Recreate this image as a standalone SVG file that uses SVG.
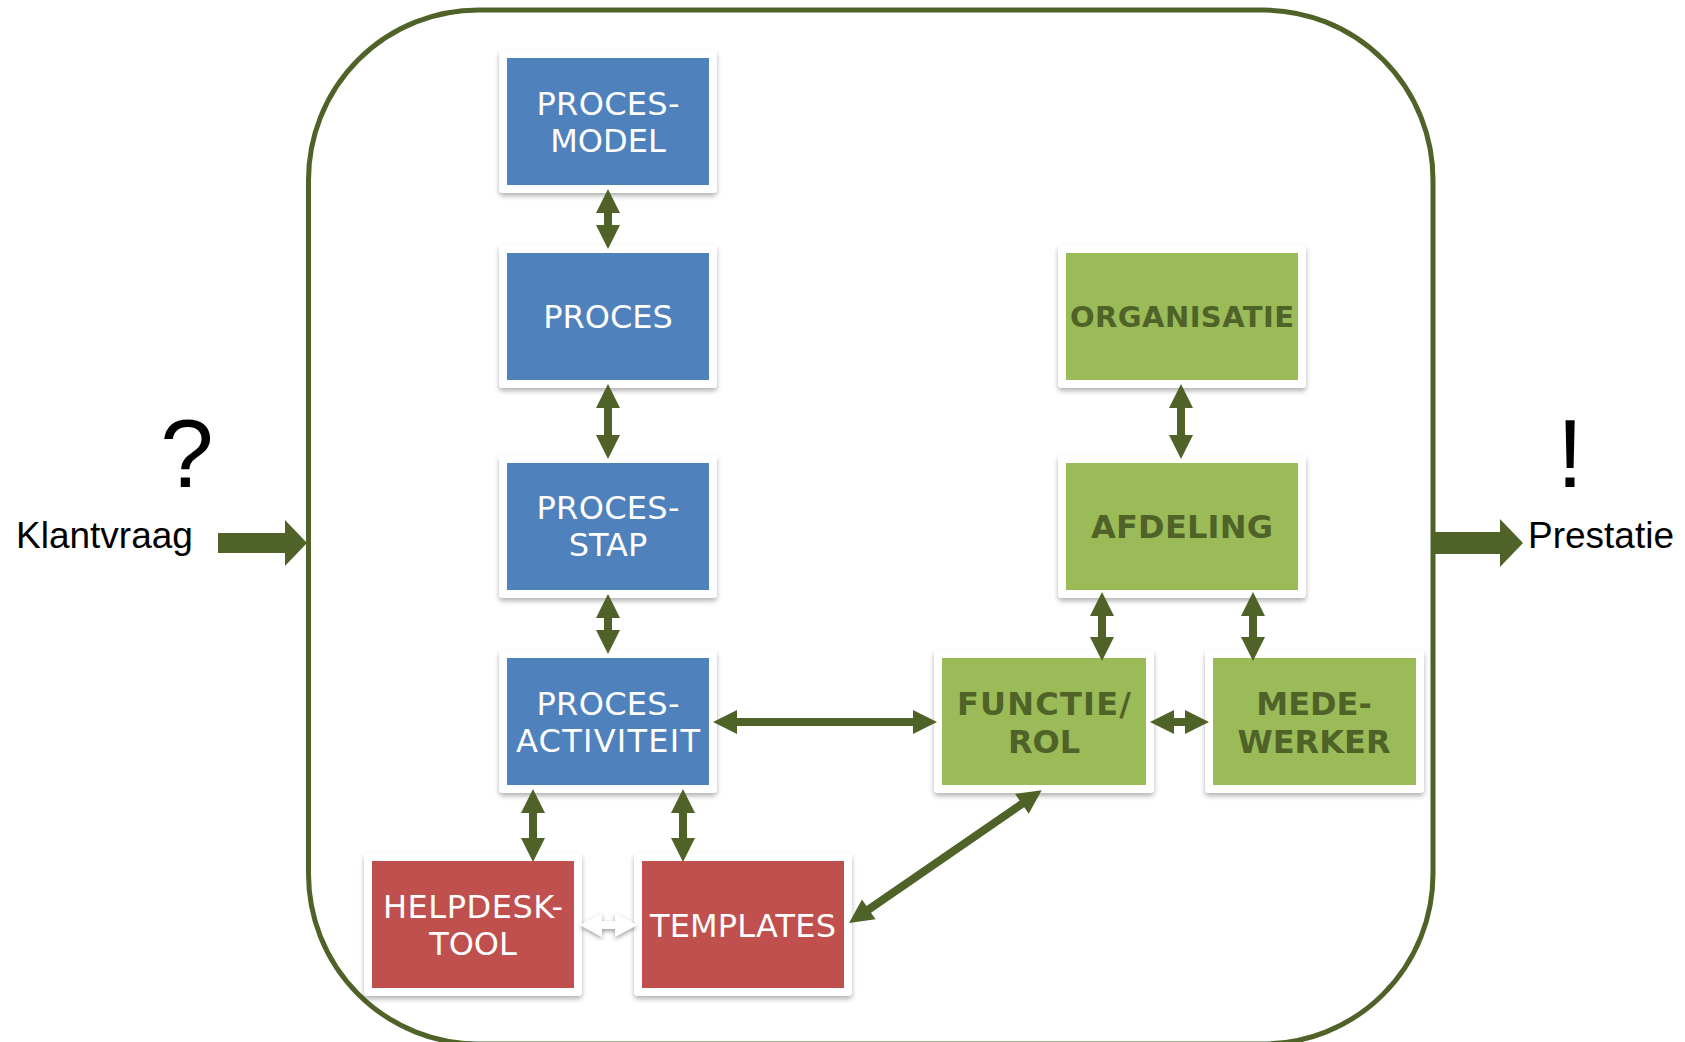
<svg xmlns="http://www.w3.org/2000/svg" width="1685" height="1042" viewBox="0 0 1685 1042">
<defs>
<filter id="sh" x="-10%" y="-10%" width="120%" height="130%">
<feDropShadow dx="0" dy="3" stdDeviation="2.5" flood-color="#000" flood-opacity="0.3"/>
</filter>
<filter id="sh2" x="-20%" y="-50%" width="140%" height="220%">
<feDropShadow dx="0" dy="2" stdDeviation="2" flood-color="#000" flood-opacity="0.4"/>
</filter>
</defs>
<style>
.frame{fill:#fff;filter:url(#sh)}
.blue{fill:#4F81BD}
.red{fill:#C0504D}
.green{fill:#9BBB59}
.wt{font-family:"DejaVu Sans",Verdana,sans-serif;font-size:32px;fill:#fff;text-anchor:middle}
.gt{font-family:"DejaVu Sans",Verdana,sans-serif;font-size:32px;font-weight:bold;fill:#4F6228;text-anchor:middle}
.conn{fill:#4F6228}
.lt{font-family:"Liberation Sans",Arial,sans-serif;font-size:37px;fill:#000}
.big{font-family:"Liberation Sans",Arial,sans-serif;font-size:96px;fill:#000;text-anchor:middle}
</style>
<rect width="1685" height="1042" fill="#fff"/>
<g id="boundary">
<rect x="308.5" y="10" width="1124.5" height="1034" rx="170" ry="170" fill="none" stroke="#4F6228" stroke-width="5"/>
</g>
<g id="klantvraag">
<text class="big" x="187" y="487">?</text>
<text class="lt" x="16" y="548">Klantvraag</text>
</g>
<g id="prestatie">
<text class="big" x="1570" y="487">!</text>
<text class="lt" x="1528" y="548">Prestatie</text>
</g>
<g id="procesmodel">
<rect class="frame" x="499" y="50" width="218" height="143" rx="4"/>
<rect class="blue" x="507" y="58" width="202" height="127"/>
<text class="wt" x="608" y="115" textLength="143" lengthAdjust="spacing">PROCES-</text>
<text class="wt" x="608" y="152">MODEL</text>
</g>
<g id="proces">
<rect class="frame" x="499" y="245" width="218" height="143" rx="4"/>
<rect class="blue" x="507" y="253" width="202" height="127"/>
<text class="wt" x="608" y="328">PROCES</text>
</g>
<g id="processtap">
<rect class="frame" x="499" y="455" width="218" height="143" rx="4"/>
<rect class="blue" x="507" y="463" width="202" height="127"/>
<text class="wt" x="608" y="519" textLength="143" lengthAdjust="spacing">PROCES-</text>
<text class="wt" x="608" y="556">STAP</text>
</g>
<g id="procesactiviteit">
<rect class="frame" x="499" y="650" width="218" height="143" rx="4"/>
<rect class="blue" x="507" y="658" width="202" height="127"/>
<text class="wt" x="608" y="715" textLength="143" lengthAdjust="spacing">PROCES-</text>
<text class="wt" x="608" y="752" textLength="184" lengthAdjust="spacing">ACTIVITEIT</text>
</g>
<g id="helpdesktool">
<rect class="frame" x="364" y="853" width="218" height="143" rx="4"/>
<rect class="red" x="372" y="861" width="202" height="127"/>
<text class="wt" x="473" y="918" textLength="180" lengthAdjust="spacing">HELPDESK-</text>
<text class="wt" x="473" y="955">TOOL</text>
</g>
<g id="templates">
<rect class="frame" x="634" y="853" width="218" height="143" rx="4"/>
<rect class="red" x="642" y="861" width="202" height="127"/>
<text class="wt" x="743" y="937" textLength="186" lengthAdjust="spacing">TEMPLATES</text>
</g>
<g id="organisatie">
<rect class="frame" x="1058" y="245" width="248" height="143" rx="4"/>
<rect class="green" x="1066" y="253" width="232" height="127"/>
<text class="gt" x="1182" y="327" style="font-size:29px" textLength="224" lengthAdjust="spacing">ORGANISATIE</text>
</g>
<g id="afdeling">
<rect class="frame" x="1058" y="455" width="248" height="143" rx="4"/>
<rect class="green" x="1066" y="463" width="232" height="127"/>
<text class="gt" x="1182" y="538" textLength="182" lengthAdjust="spacing">AFDELING</text>
</g>
<g id="functierol">
<rect class="frame" x="934" y="650" width="220" height="143" rx="4"/>
<rect class="green" x="942" y="658" width="204" height="127"/>
<text class="gt" x="1044" y="715" textLength="174" lengthAdjust="spacing">FUNCTIE/</text>
<text class="gt" x="1044" y="753">ROL</text>
</g>
<g id="medewerker">
<rect class="frame" x="1205" y="650" width="219" height="143" rx="4"/>
<rect class="green" x="1213" y="658" width="203" height="127"/>
<text class="gt" x="1314" y="715">MEDE-</text>
<text class="gt" x="1314" y="753">WERKER</text>
</g>
<g id="connectors">
<path class="conn" d="M218,533 H285 V520 L307,543 L285,566 V553 H218 Z"/>
<path class="conn" d="M1433,532 H1500 V519 L1523,543 L1500,567 V554 H1433 Z"/>
<path class="conn" d="M608,189 L620,213 L612,213 L612,225 L620,225 L608,249 L596,225 L604,225 L604,213 L596,213 Z"/>
<path class="conn" d="M608,384 L620,408 L612,408 L612,435 L620,435 L608,459 L596,435 L604,435 L604,408 L596,408 Z"/>
<path class="conn" d="M608,594 L620,618 L612,618 L612,630 L620,630 L608,654 L596,630 L604,630 L604,618 L596,618 Z"/>
<path class="conn" d="M533,789 L545,813 L537,813 L537,838 L545,838 L533,862 L521,838 L529,838 L529,813 L521,813 Z"/>
<path class="conn" d="M683,789 L695,813 L687,813 L687,838 L695,838 L683,862 L671,838 L679,838 L679,813 L671,813 Z"/>
<path class="conn" d="M1181,384 L1193,408 L1185,408 L1185,435 L1193,435 L1181,459 L1169,435 L1177,435 L1177,408 L1169,408 Z"/>
<path class="conn" d="M1102,592 L1114,616 L1106,616 L1106,637 L1114,637 L1102,661 L1090,637 L1098,637 L1098,616 L1090,616 Z"/>
<path class="conn" d="M1253,592 L1265,616 L1257,616 L1257,637 L1265,637 L1253,661 L1241,637 L1249,637 L1249,616 L1241,616 Z"/>
<path class="conn" d="M713,722 L737,710 L737,718 L913,718 L913,710 L937,722 L913,734 L913,726 L737,726 L737,734 Z"/>
<path class="conn" d="M1150,722 L1174,710 L1174,718 L1185,718 L1185,710 L1209,722 L1185,734 L1185,726 L1174,726 L1174,734 Z"/>
<path class="conn" transform="translate(849,923) rotate(-34.57)" d="M0,0 L24,-12 L24,-4 L210,-4 L210,-12 L234,0 L210,12 L210,4 L24,4 L24,12 Z"/>
<path fill="#fff" filter="url(#sh2)" d="M580,925 L602,913 L602,921 L615,921 L615,913 L637,925 L615,937 L615,929 L602,929 L602,937 Z"/>
</g>
</svg>
